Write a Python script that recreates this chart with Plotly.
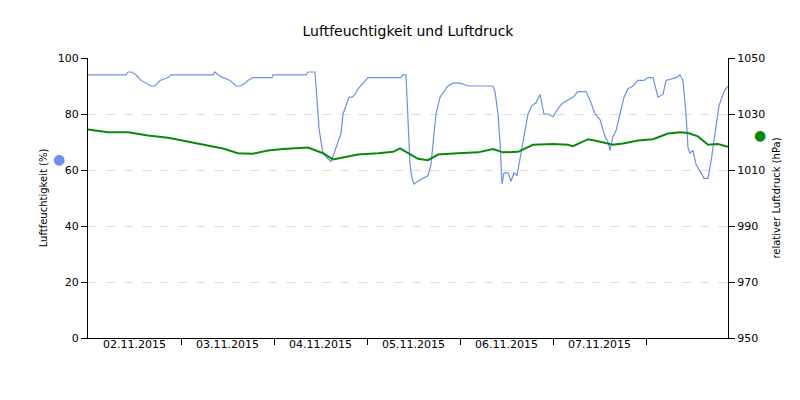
import plotly.graph_objects as go
import pandas as pd

# Humidity samples: (pixel-read x positions converted to time, %)
hum_px = [80,118,120,123,128,133,143,147,152,160,163,205,207,210,215,222,228,232,237,240,245,264,265,298,300,307,308,311,313,315,320,323,326,330,333,335,338,341,344,347,350,355,360,393,395,398,400,402,404,406,410,415,420,423,425,428,432,436,440,445,452,460,485,487,490,492,494,496,500,503,506,509,511,514,517,520,524,528,532,534,536,540,545,550,555,560,565,570,578,583,587,592,597,600,602,605,608,612,616,620,625,630,636,640,645,650,655,658,668,672,675,678,680,682,685,688,693,696,700,703,707,711,716,720]
hum_val = [94,94,95,95,94,92,90,90,92,93,94,94,95,94,93,92,90,90,91,92,93,93,94,94,95,95,90,75,70,66,64,63,66,70,73,80,83,86,86,87,89,91,93,93,94,94,80,62,57,55,56,57,58,62,70,80,86,88,90,91,91,90,90,88,80,70,55,59,59,56,59,58,62,68,75,80,83,84,87,84,80,80,79,82,84,85,86,88,88,84,80,78,72,70,67,72,74,80,86,89,90,92,92,93,93,86,87,92,93,94,92,80,68,66,67,62,59,57,57,63,73,83,88,90]
pres_px = [80,100,120,140,160,175,195,215,230,245,260,275,300,315,325,335,350,370,385,392,400,410,420,430,450,470,485,495,510,525,545,560,565,580,590,600,605,615,630,645,660,672,680,690,700,710,720]
pres_val = [1024.5,1023.5,1023.5,1022.3,1021.5,1020.5,1019,1017.7,1016,1015.8,1017,1017.5,1018,1016,1013.8,1014.5,1015.5,1016,1016.5,1017.7,1016,1014,1013.5,1015.5,1016,1016.3,1017.5,1016.3,1016.5,1019,1019.3,1019,1018.5,1021,1020.3,1019.5,1019,1019.5,1020.5,1021,1023,1023.5,1023.2,1022,1019,1019.3,1018.3]
day_labels = ["02.11.2015","03.11.2015","04.11.2015","05.11.2015","06.11.2015","07.11.2015"]

t0 = pd.Timestamp("2015-11-02 00:00")
def to_t(px):
    return [t0 + pd.Timedelta(hours=(p - 80) / 93 * 24) for p in px]

fig = go.Figure()
fig.add_trace(go.Scatter(x=to_t(hum_px), y=hum_val, mode="lines",
                         line=dict(color="#6b8ff0", width=1.2), name="Luftfeuchtigkeit"))
fig.add_trace(go.Scatter(x=to_t(pres_px), y=pres_val, mode="lines", yaxis="y2",
                         line=dict(color="#0a8a0a", width=2), name="Luftdruck"))

ticks = [t0 + pd.Timedelta(days=i) for i in range(1, 7)]
for i, lab in enumerate(day_labels):
    fig.add_annotation(x=t0 + pd.Timedelta(hours=12 + 24 * i), y=0, yref="paper",
                       yshift=-15, text=lab, showarrow=False,
                       font=dict(size=11, color="#000"))
fig.add_annotation(x=-0.058, y=0.675, xref="paper", yref="paper", text="●",
                   showarrow=False, font=dict(size=14, color="#6b8ff0"))
fig.add_annotation(x=1.0625, y=0.76, xref="paper", yref="paper", text="●",
                   showarrow=False, font=dict(size=14, color="#0a8a0a"))

fig.update_layout(
    width=800, height=400, plot_bgcolor="white", paper_bgcolor="white",
    margin=dict(l=80, r=80, t=50, b=70, autoexpand=False), showlegend=False,
    font=dict(family="DejaVu Sans", size=11, color="#000"),
    title=dict(text="Luftfeuchtigkeit und Luftdruck", x=0.5, y=0.955,
               font=dict(size=14, color="#000")),
    xaxis=dict(range=[t0, t0 + pd.Timedelta(hours=(720 - 80) / 93 * 24)],
               tickvals=ticks, showticklabels=False, ticks="outside", ticklen=6,
               tickcolor="#000", showline=True, linecolor="#000", showgrid=False,
               automargin=False),
    yaxis=dict(range=[0, 100], dtick=20, ticks="outside", ticklen=6, tickcolor="#000",
               showline=True, linecolor="#000", gridcolor="#dddddd", griddash="dash",
               zeroline=False, automargin=False,
               title=dict(text="Luftfeuchtigkeit (%)", font=dict(size=10), standoff=8)),
    yaxis2=dict(range=[950, 1050], tick0=950, dtick=20, overlaying="y", side="right",
                ticks="outside", ticklen=6, tickcolor="#000", showline=True,
                linecolor="#000", showgrid=False, zeroline=False, automargin=False,
                title=dict(text="relativer Luftdruck (hPa)", font=dict(size=10), standoff=8)),
)
fig.write_html("out.html")
